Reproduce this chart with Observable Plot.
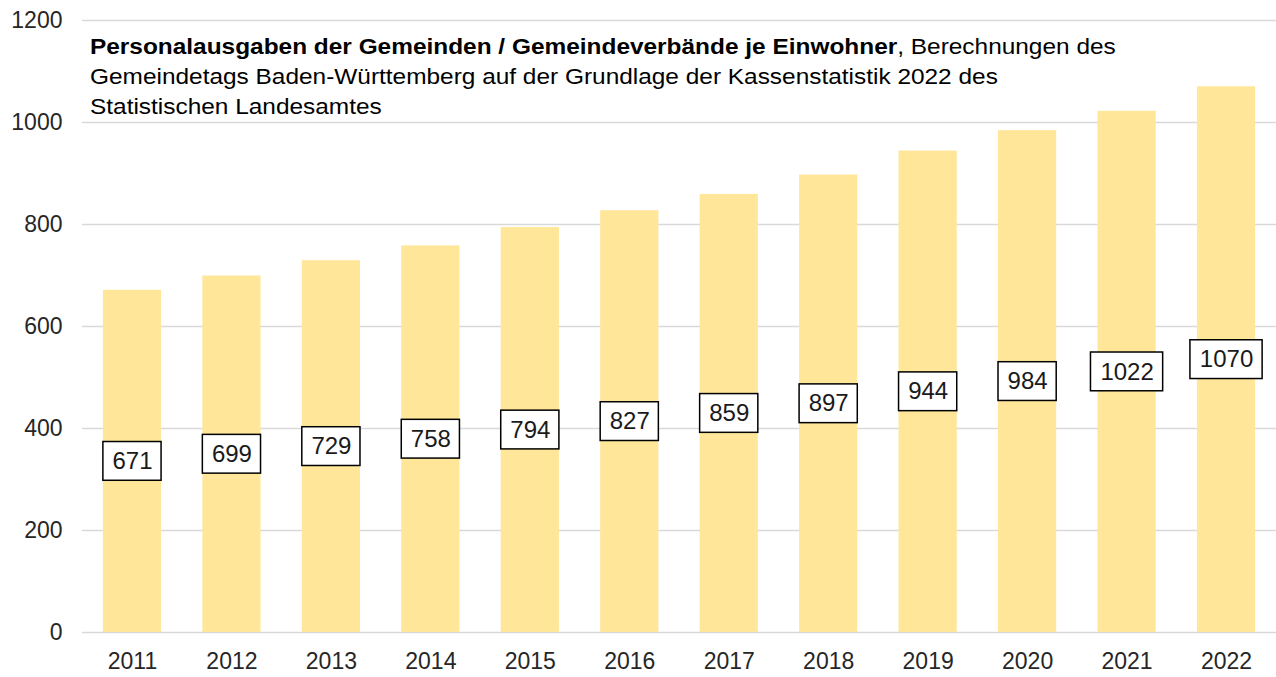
<!DOCTYPE html>
<html><head><meta charset="utf-8">
<script src="https://cdn.jsdelivr.net/npm/d3@7"></script>
<script src="https://cdn.jsdelivr.net/npm/@observablehq/plot@0.6"></script>
<style>
body{margin:0;background:#fff;font-family:"Liberation Sans",Arial,sans-serif;}
#wrap{position:relative;width:1276px;height:677px;overflow:hidden;}
#title{position:absolute;left:90px;top:32px;font-size:22.5px;line-height:30px;color:#000;white-space:nowrap;transform:scaleX(1.085);transform-origin:0 0;}
</style></head><body>
<div id="wrap"><div id="chart"></div><div id="title"><b>Personalausgaben der Gemeinden / Gemeindeverbände je Einwohner</b>, Berechnungen des<br>Gemeindetags Baden-Württemberg auf der Grundlage der Kassenstatistik 2022 des<br>Statistischen Landesamtes</div></div>
<script>
const years = ["2011","2012","2013","2014","2015","2016","2017","2018","2019","2020","2021","2022"];
const values = [671,699,729,758,794,827,859,897,944,984,1022,1070];
const yTicks = [0,200,400,600,800,1000,1200];

const data = years.map((year, i) => ({year, value: values[i]}));
const labelHalf = 38; // half label box height in data units

const chart = Plot.plot({
  width: 1276,
  height: 677,
  marginLeft: 82,
  marginRight: 0,
  marginTop: 20,
  marginBottom: 45,
  style: {fontSize: "23px", fontFamily: "Liberation Sans, Arial, sans-serif", color: "#262626", background: "#fff"},
  x: {domain: years, paddingInner: 0.415, paddingOuter: 0.21, round: false, tickSize: 0, tickPadding: 20, label: null},
  y: {domain: [0, 1200], ticks: yTicks, tickFormat: d => String(d), tickSize: 0, tickPadding: 20, label: null},
  marks: [
    Plot.gridY(yTicks, {stroke: "#d9d9d9", strokeOpacity: 1, strokeWidth: 1.5}),
    Plot.barY(data, {x: "year", y: "value", fill: "#FFE699"}),
    Plot.barY(data.filter(d => String(d.value).length < 4), {
      x: "year", y1: d => d.value / 2 - labelHalf, y2: d => d.value / 2 + labelHalf,
      fill: "white", stroke: "#000", strokeWidth: 1.5
    }),
    Plot.barY(data.filter(d => String(d.value).length >= 4), {
      x: "year", y1: d => d.value / 2 - labelHalf, y2: d => d.value / 2 + labelHalf,
      insetLeft: -7, insetRight: -7,
      fill: "white", stroke: "#000", strokeWidth: 1.5
    }),
    Plot.text(data, {x: "year", y: d => d.value / 2, text: d => String(d.value), fontSize: 24, fill: "#1a1a1a"})
  ]
});
document.getElementById("chart").appendChild(chart);
</script>
</body></html>
